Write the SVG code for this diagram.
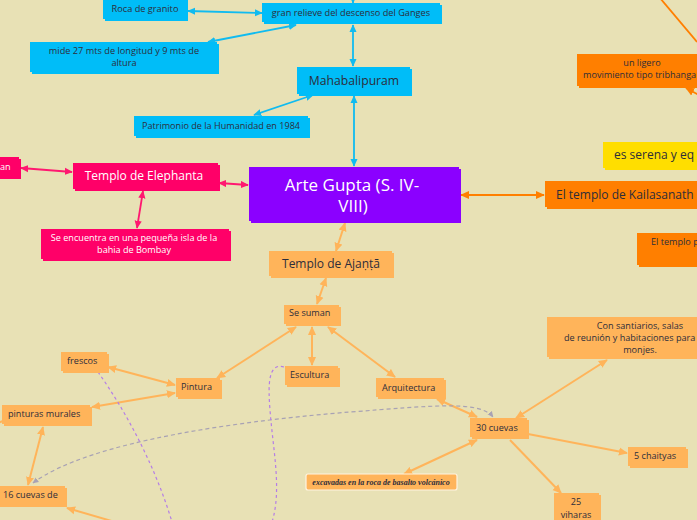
<svg xmlns="http://www.w3.org/2000/svg" width="697" height="520" viewBox="0 0 697 520">
<style>
text{font-family:"Open Sans","Noto Sans","DejaVu Sans",sans-serif;fill:#2d2d3a}
.w{fill:#fff}
.c{text-anchor:middle}
.blue{fill:#00bdf8}
.pink{fill:#ff0068}
.purp{fill:#8b00ff}
.org{fill:#ff7f00}
.yel{fill:#ffde00}
.lor{fill:#ffb45a}
.s9{font-size:9.2px}
.s8{font-size:9.1px}
.s12{font-size:12px}
.lb{stroke:#10bbf0;stroke-width:1.8;fill:none}
.lp{stroke:#ff1870;stroke-width:1.8;fill:none}
.lo{stroke:#ff7f00;stroke-width:1.8;fill:none}
.ll{stroke:#ffb45a;stroke-width:2;fill:none}
.dg{stroke:#a8a2b4;stroke-width:1.2;fill:none;stroke-dasharray:4 3}
.dp{stroke:#b57ee6;stroke-width:1.2;fill:none;stroke-dasharray:3 3}
</style>
<defs>
<marker id="ab" viewBox="0 0 10 10" refX="9" refY="5" markerWidth="8" markerHeight="8" markerUnits="userSpaceOnUse" orient="auto-start-reverse"><path d="M0,0.5 L10,5 L0,9.5 z" fill="#10bbf0"/></marker>
<marker id="ap" viewBox="0 0 10 10" refX="9" refY="5" markerWidth="8" markerHeight="8" markerUnits="userSpaceOnUse" orient="auto-start-reverse"><path d="M0,0.5 L10,5 L0,9.5 z" fill="#ff1870"/></marker>
<marker id="ao" viewBox="0 0 10 10" refX="9" refY="5" markerWidth="9" markerHeight="9" markerUnits="userSpaceOnUse" orient="auto-start-reverse"><path d="M0,0.5 L10,5 L0,9.5 z" fill="#ff7f00"/></marker>
<marker id="al" viewBox="0 0 10 10" refX="9" refY="5" markerWidth="9" markerHeight="9" markerUnits="userSpaceOnUse" orient="auto-start-reverse"><path d="M0,0.5 L10,5 L0,9.5 z" fill="#ffb45a"/></marker>
<marker id="ag" viewBox="0 0 10 10" refX="9" refY="5" markerWidth="6" markerHeight="6" markerUnits="userSpaceOnUse" orient="auto-start-reverse"><path d="M0,0.5 L10,5 L0,9.5 z" fill="#a8a2b4"/></marker>
</defs>
<rect x="0" y="0" width="697" height="520" fill="#e8e1b5"/>

<g id="connectors">
<path class="lb" d="M188,11 L262,13" marker-start="url(#ab)" marker-end="url(#ab)"/>
<path class="lb" d="M296,25 L208,42" marker-start="url(#ab)" marker-end="url(#ab)"/>
<path class="lb" d="M353,25 L353,66" marker-start="url(#ab)" marker-end="url(#ab)"/>
<path class="lb" d="M353,-10 L353,3" marker-end="url(#ab)"/>
<path class="lb" d="M313,95 L254,115" marker-start="url(#ab)" marker-end="url(#ab)"/>
<path class="lb" d="M354,96 L354,166" marker-start="url(#ab)" marker-end="url(#ab)"/>
<path class="lp" d="M21,168 L72,172" marker-start="url(#ap)" marker-end="url(#ap)"/>
<path class="lp" d="M219,183 L248,185" marker-start="url(#ap)" marker-end="url(#ap)"/>
<path class="lp" d="M143,191 L137,228" marker-start="url(#ap)" marker-end="url(#ap)"/>
<path class="lo" d="M461,195 L544,195" marker-start="url(#ao)" marker-end="url(#ao)"/>
<path class="lo" d="M660,-2 L697,42"/>
<path class="lo" d="M699,95 L686,88" marker-end="url(#ao)"/>
<path class="ll" d="M345,223 L336,251" marker-start="url(#al)" marker-end="url(#al)"/>
<path class="ll" d="M326,278 L317,304" marker-start="url(#al)" marker-end="url(#al)"/>
<path class="ll" d="M296,327 L217,378" marker-start="url(#al)" marker-end="url(#al)"/>
<path class="ll" d="M312,327 L312,365" marker-start="url(#al)" marker-end="url(#al)"/>
<path class="ll" d="M328,327 L395,377" marker-start="url(#al)" marker-end="url(#al)"/>
<path class="ll" d="M175,385 L108,367" marker-start="url(#al)" marker-end="url(#al)"/>
<path class="ll" d="M175,393 L92,407" marker-start="url(#al)" marker-end="url(#al)"/>
<path class="ll" d="M-5,424 L3,421"/>
<path class="ll" d="M43,427 L28,485" marker-start="url(#al)" marker-end="url(#al)"/>
<path class="ll" d="M115,522 L67,508" marker-end="url(#al)"/>
<path class="ll" d="M437,399 L477,417" marker-start="url(#al)" marker-end="url(#al)"/>
<path class="ll" d="M516,418 L607,360" marker-start="url(#al)" marker-end="url(#al)"/>
<path class="ll" d="M528,434 L627,453" marker-end="url(#al)"/>
<path class="ll" d="M510,440 L561,493" marker-end="url(#al)"/>
<path class="ll" d="M477,440 L404,474" marker-start="url(#al)" marker-end="url(#al)"/>
<path class="dg" d="M33,483 C90,440 250,420 350,412 C430,406 480,400 493,417" marker-start="url(#ag)" marker-end="url(#ag)"/>
<path class="dp" d="M98,372 C125,410 155,465 172,522"/>
<path class="dp" d="M284,367 C268,362 268,385 270,410 C273,450 282,490 272,522"/>
</g>

<g id="roca"><rect class="blue" x="105" y="0" width="83" height="21"/><rect class="blue" x="103" y="-2" width="83" height="21"/><text class="s9 c" x="145" y="12">Roca de granito</text></g>
<g id="ganges"><rect class="blue" x="264" y="5" width="178" height="19"/><rect class="blue" x="262" y="3" width="178" height="19"/><text class="s9 c" x="351" y="16">gran relieve del descenso del Ganges</text></g>
<g id="mide"><rect class="blue" x="32" y="44" width="187" height="30"/><rect class="blue" x="30" y="42" width="187" height="30"/><text class="s9 c" x="124" y="54">mide 27 mts de longitud y 9 mts de</text><text class="s9 c" x="124" y="66">altura</text></g>
<g id="mahabalipuram"><rect class="blue" x="299" y="69" width="113" height="27"/><rect class="blue" x="297" y="67" width="113" height="27"/><text class="c" style="font-size:12.2px" x="354" y="85">Mahabalipuram</text></g>
<g id="patrimonio"><rect class="blue" x="136" y="118" width="174" height="20"/><rect class="blue" x="134" y="116" width="174" height="20"/><text class="s8 c" x="221" y="129">Patrimonio de la Humanidad en 1984</text></g>

<g id="arte-gupta"><rect class="purp" x="251" y="169" width="210" height="54"/><rect class="purp" x="249" y="167" width="210" height="54"/><text class="w c" style="font-size:17px" x="352" y="191">Arte Gupta (S. IV-</text><text class="w c" style="font-size:17px" x="353" y="212">VIII)</text></g>

<g id="an"><rect class="pink" x="-3" y="159" width="24" height="20"/><rect class="pink" x="-5" y="157" width="24" height="20"/><text class="w s8" x="0" y="170">an</text></g>
<g id="elephanta"><rect class="pink" x="75" y="165" width="145" height="26"/><rect class="pink" x="73" y="163" width="145" height="26"/><text class="w c s12" x="144" y="180">Templo de Elephanta</text></g>
<g id="isla"><rect class="pink" x="43" y="231" width="188" height="30"/><rect class="pink" x="41" y="229" width="188" height="30"/><text class="w c" style="font-size:9.1px" x="134" y="240.5">Se encuentra en una pequeña isla de la</text><text class="w c" style="font-size:9.1px" x="134" y="252.5">bahia de Bombay</text></g>

<g id="kailasanath"><rect class="org" x="547" y="183" width="160" height="26"/><rect class="org" x="545" y="181" width="160" height="26"/><text class="s12" x="556" y="199">El templo de Kailasanath</text></g>
<g id="ligero"><rect class="org" x="579" y="56" width="130" height="32"/><rect class="org" x="577" y="54" width="130" height="32"/><text class="s8 c" x="642" y="66">un ligero</text><text class="s8" x="583" y="78">movimiento tipo tribhanga</text></g>
<g id="serena"><rect class="yel" x="605" y="144" width="100" height="26"/><rect class="yel" x="603" y="142" width="100" height="26"/><text class="s12" x="614" y="159">es serena y eq</text></g>
<g id="templo-p"><rect class="org" x="639" y="235" width="70" height="32"/><rect class="org" x="637" y="233" width="70" height="32"/><text class="s8" x="651" y="245">El templo p</text></g>

<g id="ajanta"><rect class="lor" x="271" y="253" width="123" height="25"/><rect class="lor" x="269" y="251" width="123" height="25"/><text class="c" style="font-size:12px" x="331" y="268">Templo de Ajaṇṭā</text></g>
<g id="se-suman"><rect class="lor" x="286" y="307" width="55" height="19"/><rect class="lor" x="284" y="305" width="55" height="19"/><text class="s8" x="289" y="316">Se suman</text></g>
<g id="frescos"><rect class="lor" x="63" y="354" width="46" height="19"/><rect class="lor" x="61" y="352" width="46" height="19"/><text class="s8" x="67" y="364">frescos</text></g>
<g id="pintura"><rect class="lor" x="178" y="380" width="44" height="19"/><rect class="lor" x="176" y="378" width="44" height="19"/><text class="s8" x="181" y="390">Pintura</text></g>
<g id="escultura"><rect class="lor" x="287" y="368" width="53" height="19"/><rect class="lor" x="285" y="366" width="53" height="19"/><text class="s8" x="290" y="378">Escultura</text></g>
<g id="murales"><rect class="lor" x="4" y="407" width="88" height="19"/><rect class="lor" x="2" y="405" width="88" height="19"/><text class="s8" x="8" y="417">pinturas murales</text></g>
<g id="cuevas16"><rect class="lor" x="0" y="488" width="67" height="19"/><rect class="lor" x="-2" y="486" width="67" height="19"/><text class="s8" x="3" y="498">16 cuevas de</text></g>
<g id="arquitectura"><rect class="lor" x="378" y="380" width="68" height="19"/><rect class="lor" x="376" y="378" width="68" height="19"/><text class="s8" x="382" y="391">Arquitectura</text></g>
<g id="cuevas30"><rect class="lor" x="472" y="420" width="57" height="19"/><rect class="lor" x="470" y="418" width="57" height="19"/><text class="s8" x="476" y="431">30 cuevas</text></g>
<g id="santiarios"><rect class="lor" x="549" y="319" width="155" height="40"/><rect class="lor" x="547" y="317" width="155" height="40"/><text class="s8 c" x="640" y="328.5">Con santiarios, salas</text><text class="s8" x="564" y="340.5">de reunión y habitaciones para</text><text class="s8 c" x="640" y="352.5">monjes.</text></g>
<g id="chaityas"><rect class="lor" x="630" y="449" width="58" height="19"/><rect class="lor" x="628" y="447" width="58" height="19"/><text class="s8" x="634" y="459">5 chaityas</text></g>
<g id="viharas"><rect class="lor" x="556" y="495" width="45" height="30"/><rect class="lor" x="554" y="493" width="45" height="30"/><text class="s8 c" x="576" y="505">25</text><text class="s8 c" x="576" y="518">viharas</text></g>
<g id="excavadas"><rect class="lor" x="306" y="474" width="151" height="16" rx="2" stroke="#fff4e0" stroke-width="1.2"/><text class="c" style="font-family:'Liberation Serif',serif;font-style:italic;font-weight:bold;font-size:8px" x="381" y="485">excavadas en la roca de basalto volcánico</text></g>
</svg>
